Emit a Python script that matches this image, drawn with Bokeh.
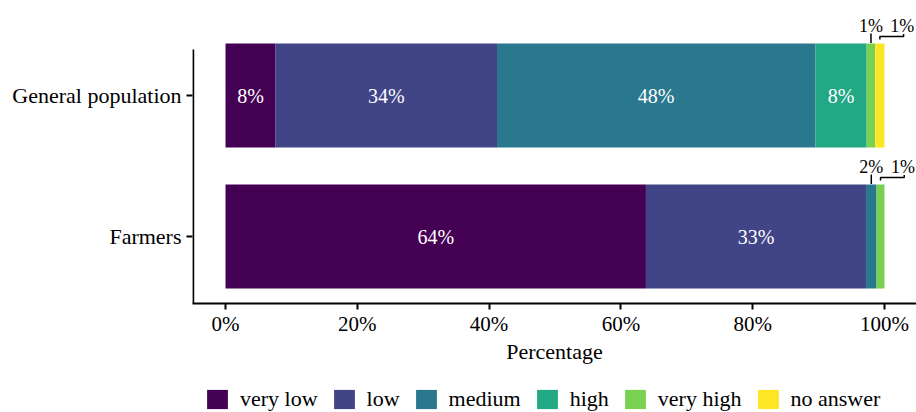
from bokeh.plotting import figure
from bokeh.layouts import column
from bokeh.models import (ColumnDataSource, Range1d, FixedTicker, Legend, LegendItem)
from bokeh.core.properties import value
from bokeh.embed import file_html
from bokeh.resources import INLINE

# ---- data ----
groups = ["Farmers", "General population"]
group_pos = [1, 2]
categories = ["very low", "low", "medium", "high", "very high", "no answer"]
colors = ["#440154", "#414487", "#2A788E", "#22A884", "#7AD151", "#FDE725"]
# percentages per category, order: Farmers, General population
very_low = [63.8, 7.6]
low = [33.4, 33.6]
medium = [1.6, 48.3]
high = [0.0, 7.8]
very_high = [1.2, 1.3]
no_answer = [0.0, 1.4]
series = [very_low, low, medium, high, very_high, no_answer]
x_ticks = [0, 20, 40, 60, 80, 100]
x_tick_labels = ["0%", "20%", "40%", "60%", "80%", "100%"]

FONT = "Liberation Serif"
BAR_H = 0.738
PX = 1 / 141.0  # one vertical pixel in data units

p = figure(width=916, height=385, output_backend="svg", toolbar_location=None,
           x_range=Range1d(-5.01, 104.86), y_range=Range1d(0.525, 2.674),
           min_border_left=192, min_border_right=0, min_border_top=0,
           min_border_bottom=82)
p.outline_line_color = None
p.xgrid.grid_line_color = None
p.ygrid.grid_line_color = None
p.background_fill_color = "white"

# stacked bars
lefts = [0.0] * len(groups)
inbar_x, inbar_y, inbar_t = [], [], []
small = {g: [] for g in range(len(groups))}
for cat, col, vals in zip(categories, colors, series):
    rights = [l + v for l, v in zip(lefts, vals)]
    src = ColumnDataSource(dict(y=group_pos, left=lefts, right=rights))
    p.hbar(y="y", left="left", right="right", height=BAR_H, source=src,
           fill_color=col, line_color=None)
    for gi, (l, v) in enumerate(zip(lefts, vals)):
        if v >= 5:
            inbar_x.append(l + v / 2)
            inbar_y.append(group_pos[gi])
            inbar_t.append(f"{round(v)}%")
        elif v > 0:
            small[gi].append((l + v / 2, v))
    lefts = rights

p.text(x=inbar_x, y=inbar_y, text=inbar_t, text_color="white",
       text_font=value(FONT), text_font_size="20px", text_align="center",
       text_baseline="middle")

# small labels above bars with leader lines
sx, sy, st = [], [], []
seg_xs, seg_ys = [], []
for gi, items in small.items():
    top = group_pos[gi] + BAR_H / 2
    for k, (cx, v) in enumerate(items):
        lab = f"{max(round(v), 1)}%"
        if k == 0:
            lx = cx
            seg_xs.append([cx, cx])
            seg_ys.append([top + 0.5 * PX, top + 10 * PX])
        else:
            lx = cx + 3.4
            seg_xs.append([cx, cx, lx + 0.2, lx + 0.2])
            seg_ys.append([top + 4 * PX, top + 7 * PX, top + 7 * PX, top + 9.5 * PX])
        sx.append(lx)
        sy.append(top + 17.5 * PX)
        st.append(lab)
p.multi_line(xs=seg_xs, ys=seg_ys, line_color="black", line_width=1.5)
p.text(x=sx, y=sy, text=st, text_color="black", text_font=value(FONT),
       text_font_size="18px", text_align="center", text_baseline="middle")

# y axis line (shorter than frame as in reference)
p.segment(x0=[-4.9], y0=[0.525], x1=[-4.9], y1=[2.0 + 46 * PX],
          line_color="black", line_width=2)

# axes
xa = p.xaxis[0]
xa.ticker = FixedTicker(ticks=x_ticks)
xa.major_label_overrides = {t: l for t, l in zip(x_ticks, x_tick_labels)}
xa.minor_tick_line_color = None
xa.major_tick_in = 0
xa.major_tick_out = 6
xa.major_tick_line_width = 2
xa.axis_line_width = 2
xa.axis_line_color = "black"
xa.major_label_text_font = FONT
xa.major_label_text_font_size = "21px"
xa.major_label_text_color = "black"
xa.major_label_standoff = 2
xa.axis_label = "Percentage"
xa.axis_label_text_font = FONT
xa.axis_label_text_font_size = "22px"
xa.axis_label_text_font_style = "normal"
xa.axis_label_text_color = "black"
xa.axis_label_standoff = 0

ya = p.yaxis[0]
ya.ticker = FixedTicker(ticks=group_pos)
ya.major_label_overrides = {pos: g for pos, g in zip(group_pos, groups)}
ya.minor_tick_line_color = None
ya.major_tick_in = 0
ya.major_tick_out = 6
ya.major_tick_line_width = 2
ya.axis_line_color = None
ya.major_label_text_font = FONT
ya.major_label_text_font_size = "22px"
ya.major_label_text_color = "black"
ya.major_label_standoff = 5

# legend strip below the chart (dummy bars kept outside the visible range)
lg = figure(width=916, height=27, output_backend="svg", toolbar_location=None,
            x_range=Range1d(0, 1), y_range=Range1d(0, 1),
            x_axis_type=None, y_axis_type=None,
            min_border_left=0, min_border_right=0, min_border_top=0, min_border_bottom=0)
lg.outline_line_color = None
lg.xgrid.grid_line_color = None
lg.ygrid.grid_line_color = None
items = []
for cat, col in zip(categories, colors):
    r = lg.hbar(y=[10], left=[10], right=[11], height=1, fill_color=col, line_color=None)
    items.append(LegendItem(label=cat, renderers=[r]))
legend = Legend(items=items, orientation="horizontal", location=(12, 0),
                glyph_width=26, glyph_height=24, label_height=24,
                label_standoff=10, spacing=13, padding=0, margin=0,
                border_line_color=None, background_fill_alpha=0,
                label_text_font=FONT, label_text_font_size="22px",
                label_text_color="black")
lg.add_layout(legend)

layout = column(p, lg, spacing=0)
open("out.html", "w").write(file_html(layout, INLINE))
